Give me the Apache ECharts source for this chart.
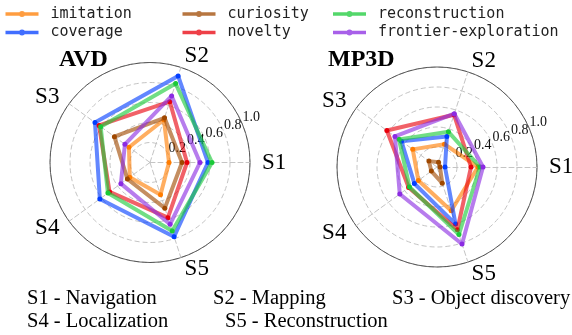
<!DOCTYPE html>
<html><head><meta charset="utf-8">
<script src="https://cdn.jsdelivr.net/npm/echarts@6/dist/echarts.min.js"></script>
<style>html,body{margin:0;padding:0;background:#fff}#c{width:572px;height:335px}</style>
</head><body><div id="c"></div>
<script>
// ---- data ----
const indicators = ['S1', 'S2', 'S3', 'S4', 'S5'];
const methods = ['imitation', 'coverage', 'curiosity', 'novelty', 'reconstruction', 'frontier-exploration'];
const colors = ['#ff7c00', '#023eff', '#9f4800', '#e8000b', '#1ac938', '#8b2be2'];
const radialTicks = ['0.2', '0.4', '0.6', '0.8', '1.0'];
const captionsRow1 = ['S1 - Navigation', 'S2 - Mapping', 'S3 - Object discovery'];
const captionsRow2 = ['S4 - Localization', 'S5 - Reconstruction'];

// AVD values (S1..S5)
const avdImitation      = [0.19, 0.45, 0.26, 0.25, 0.34];
const avdCoverage       = [0.58, 0.91, 0.68, 0.62, 0.78];
const avdCuriosity      = [0.32, 0.47, 0.44, 0.28, 0.48];
const avdNovelty        = [0.37, 0.64, 0.63, 0.50, 0.58];
const avdReconstruction = [0.62, 0.83, 0.61, 0.52, 0.72];
const avdFrontier       = [0.50, 0.70, 0.31, 0.36, 0.65];

// MP3D values (S1..S5)
const mpImitation      = [0.41, 0.24, 0.30, 0.23, 0.46];
const mpCoverage       = [0.08, 0.32, 0.44, 0.28, 0.60];
const mpCuriosity      = [0.03, 0.05, 0.10, 0.07, 0.17];
const mpNovelty        = [0.34, 0.55, 0.62, 0.35, 0.66];
const mpReconstruction = [0.43, 0.37, 0.47, 0.34, 0.71];
const mpFrontier       = [0.46, 0.56, 0.52, 0.46, 0.81];

const avdValues = [avdImitation, avdCoverage, avdCuriosity, avdNovelty, avdReconstruction, avdFrontier];
const mpValues = [mpImitation, mpCoverage, mpCuriosity, mpNovelty, mpReconstruction, mpFrontier];

// ---- chart ----
const chart = echarts.init(document.getElementById('c'), null, {renderer: 'canvas'});
const serif = 'Liberation Serif';
const gridGray = '#c4c4c4';

function radarSet(center) {
  const main = {
    center: center, radius: 100, startAngle: 0, shape: 'circle', splitNumber: 5,
    indicator: indicators.map(n => ({name: n, min: 0, max: 1})),
    axisName: {color: '#000', fontFamily: serif, fontSize: 23},
    nameGap: 12,
    splitLine: {lineStyle: {color: gridGray, type: [5, 3], width: 1}},
    splitArea: {show: false},
    axisLine: {lineStyle: {color: gridGray, type: [5, 3], width: 1}},
    axisTick: {show: false},
    axisLabel: {show: false}
  };
  const outer = {
    center: center, radius: 100, startAngle: 0, shape: 'circle', splitNumber: 1,
    indicator: indicators.map(n => ({name: n, min: 0, max: 1})),
    axisName: {show: false},
    splitLine: {lineStyle: {color: '#333', type: 'solid', width: 0.8}},
    splitArea: {show: false},
    axisLine: {show: false},
    axisTick: {show: false},
    axisLabel: {show: false}
  };
  const labels = {
    center: center, radius: 100, startAngle: 22.5, shape: 'circle', splitNumber: 5,
    indicator: indicators.map((n, i) => i === 0
      ? {name: '', min: 0, max: 1, axisLabel: {show: true}}
      : {name: '', min: 0, max: 1}),
    axisName: {show: false},
    splitLine: {show: false},
    splitArea: {show: false},
    axisLine: {show: false},
    axisTick: {show: false},
    axisLabel: {
      show: false, margin: 0, align: 'left', verticalAlign: 'bottom',
      showMaxLabel: true, showMinLabel: true, hideOverlap: false,
      fontFamily: serif, fontSize: 14, color: '#111', lineHeight: 13,
      formatter: function (v) {
        const idx = Math.round(v * 5) - 1;
        return idx >= 0 && idx < radialTicks.length ? radialTicks[idx] : '';
      }
    }
  };
  return [main, outer, labels];
}

const series = [];
function addSeries(values, radarIndex) {
  methods.forEach((m, i) => {
    series.push({
      type: 'radar', name: m, radarIndex: radarIndex,
      symbol: 'circle', symbolSize: 5,
      lineStyle: {width: 4, color: colors[i], opacity: 0.62},
      itemStyle: {color: colors[i]},
      emphasis: {disabled: true},
      silent: true,
      z: 3 + i,
      data: [{name: m, value: values[i]}]
    });
  });
}
addSeries(avdValues, 0);
addSeries(mpValues, 3);

const legendIcon = 'path://M0,2.2 L33,2.2 L33,5.8 L0,5.8 Z M13.5,4 A3,3 0 1 1 19.5,4 A3,3 0 1 1 13.5,4 Z';
const legendCols = [5.5, 182.5, 333];
const legendRows = [6.5, 25];
const legends = methods.map((m, i) => ({
  data: [m],
  left: legendCols[Math.floor(i / 2)],
  top: legendRows[i % 2],
  padding: 0,
  itemWidth: 33, itemHeight: 6,
  icon: legendIcon,
  itemStyle: {opacity: 0.75},
  selectedMode: false,
  textStyle: {fontFamily: 'DejaVu Sans Mono', fontSize: 15, color: '#222', lineHeight: 15, padding: [0, 0, 0, 7]}
}));

const capStyle = {fontFamily: serif, fontSize: 20.5, fontWeight: 'normal', color: '#000'};
const titles = [
  {text: 'AVD', left: 59, top: 48, padding: 0, textStyle: {fontFamily: serif, fontWeight: 'bold', fontSize: 24, color: '#000'}},
  {text: 'MP3D', left: 328, top: 48, padding: 0, textStyle: {fontFamily: serif, fontWeight: 'bold', fontSize: 24, color: '#000'}},
  {text: captionsRow1[0], left: 27, top: 288, padding: 0, textStyle: capStyle},
  {text: captionsRow1[1], left: 213, top: 288, padding: 0, textStyle: capStyle},
  {text: captionsRow1[2], left: 392, top: 288, padding: 0, textStyle: capStyle},
  {text: captionsRow2[0], left: 27, top: 311, padding: 0, textStyle: capStyle},
  {text: captionsRow2[1], left: 225, top: 311, padding: 0, textStyle: capStyle}
];

chart.setOption({
  animation: false,
  backgroundColor: '#fff',
  title: titles,
  legend: legends,
  radar: radarSet([150, 162.5]).concat(radarSet([437, 167])),
  series: series
});
</script>
</body></html>
